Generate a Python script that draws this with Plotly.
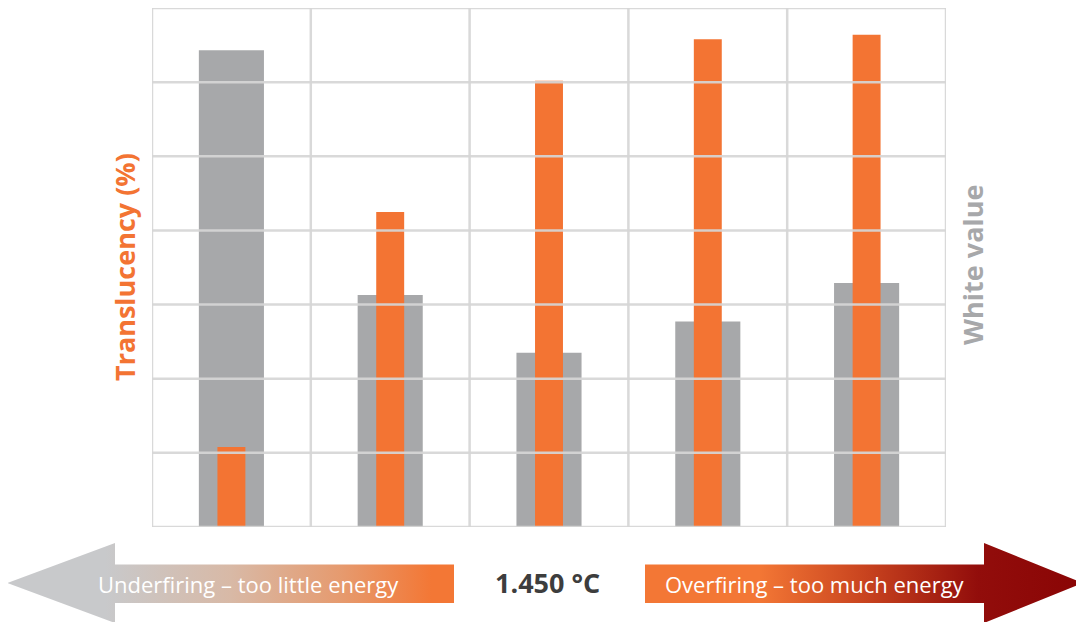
import plotly.graph_objects as go

OFF = 8  # page margin around the plot in the browser
W, H = 1084 - OFF, 622 - OFF

# ---- data ----
categories = [0, 1, 2, 3, 4]  # five firing stages (no tick labels in original)
white_value = [6.43, 3.13, 2.35, 2.77, 3.29]
translucency = [1.08, 4.25, 6.02, 6.58, 6.64]
grid_levels = [0, 1, 2, 3, 4, 5, 6, 7]
grid_cols = [-0.5, 0.5, 1.5, 2.5, 3.5, 4.5]

# decorative arrow outlines (page pixel coordinates of the bottom band)
left_arrow_x = [7, 115, 115, 454, 454, 115, 115, 7]
left_arrow_y = [583, 543, 564.5, 564.5, 603, 603, 623, 583]
right_arrow_x = [645, 984, 984, 1083, 984, 984, 645, 645]
right_arrow_y = [564.5, 564.5, 543, 583, 623, 603, 603, 564.5]

GRAY = "#a7a8aa"
ORANGE = "#f37433"
GRID = "rgba(214,214,214,0.92)"
FONT = "Open Sans"

fig = go.Figure()

fig.add_trace(go.Bar(x=categories, y=white_value, width=0.41, marker=dict(color=GRAY, line=dict(width=0)),
                     name="White value", xaxis="x", yaxis="y", hoverinfo="skip"))
fig.add_trace(go.Bar(x=categories, y=translucency, width=0.176, marker=dict(color=ORANGE, line=dict(width=0)),
                     name="Translucency (%)", xaxis="x", yaxis="y", hoverinfo="skip"))

# arrows with horizontal gradients
fig.add_trace(go.Scatter(
    x=left_arrow_x, y=left_arrow_y, mode="lines", fill="toself", line=dict(width=0),
    fillgradient=dict(type="horizontal", colorscale=[
        [0, "#c8c9cb"], [0.22, "#c8c9cb"], [0.5, "#d8b9a6"], [0.75, "#e69a6e"], [0.95, "#f37735"], [1, "#f37735"]]),
    xaxis="x2", yaxis="y2", hoverinfo="skip", showlegend=False))
fig.add_trace(go.Scatter(
    x=right_arrow_x, y=right_arrow_y, mode="lines", fill="toself", line=dict(width=0),
    fillgradient=dict(type="horizontal", colorscale=[
        [0, "#f37735"], [0.26, "#f37735"], [0.5, "#c9441f"], [0.76, "#920d0b"], [1, "#8a0505"]]),
    xaxis="x2", yaxis="y2", hoverinfo="skip", showlegend=False))

shapes = []
for lv in grid_levels:
    shapes.append(dict(type="line", xref="x", yref="y", x0=grid_cols[0], x1=grid_cols[-1], y0=lv, y1=lv,
                       line=dict(color=GRID, width=2.5), layer="above"))
for c in grid_cols:
    shapes.append(dict(type="line", xref="x", yref="y", x0=c, x1=c, y0=grid_levels[0], y1=grid_levels[-1],
                       line=dict(color=GRID, width=2.5), layer="above"))

def px(x):
    return (x - OFF) / W

def py(y):
    return 1 - (y - OFF) / H

annotations = [
    dict(text="<b>Translucency (%)</b>", x=px(124), y=py(267), xref="paper", yref="paper", textangle=-90,
         showarrow=False, font=dict(family=FONT, size=27, color=ORANGE), xanchor="center", yanchor="middle"),
    dict(text="<b>White value</b>", x=px(972), y=py(265), xref="paper", yref="paper", textangle=-90,
         showarrow=False, font=dict(family=FONT, size=27, color=GRAY), xanchor="center", yanchor="middle"),
    dict(text="Underfiring – too little energy", x=px(248), y=py(584), xref="paper", yref="paper",
         showarrow=False, font=dict(family=FONT, size=22, color="white"), xanchor="center", yanchor="middle"),
    dict(text="Overfiring – too much energy", x=px(815), y=py(584), xref="paper", yref="paper",
         showarrow=False, font=dict(family=FONT, size=22, color="white"), xanchor="center", yanchor="middle"),
    dict(text="<b>1.450 °C</b>", x=px(547), y=py(582), xref="paper", yref="paper",
         showarrow=False, font=dict(family=FONT, size=27, color="#3d3d3d"), xanchor="center", yanchor="middle"),
]

hidden = dict(showgrid=False, zeroline=False, showticklabels=False, showline=False, ticks="", fixedrange=True)

fig.update_layout(
    width=W, height=H,
    margin=dict(l=0, r=0, t=0, b=0),
    paper_bgcolor="white", plot_bgcolor="rgba(0,0,0,0)",
    barmode="overlay", showlegend=False,
    xaxis=dict(domain=[px(152), px(946)], range=[-0.5, 4.5], anchor="y", **hidden),
    yaxis=dict(domain=[py(527), py(8)], range=[0, 7], anchor="x", **hidden),
    xaxis2=dict(domain=[0, 1], range=[OFF, OFF + W], anchor="y2", **hidden),
    yaxis2=dict(domain=[0, py(530)], range=[OFF + H, 530], anchor="x2", **hidden),
    shapes=shapes, annotations=annotations,
)

fig.write_html("out.html")
